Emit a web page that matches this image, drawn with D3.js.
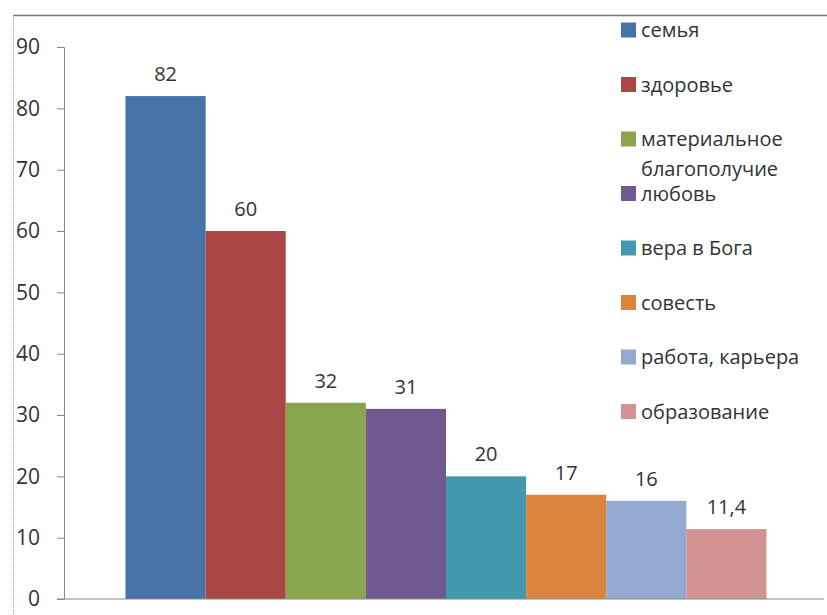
<!DOCTYPE html>
<html>
<head>
<meta charset="utf-8">
<script src="https://cdn.jsdelivr.net/npm/d3@7"></script>
<style>
body { margin: 0; background: #fff; }
text { font-family: "Open Sans", "Noto Sans", sans-serif; fill: #333; }
</style>
</head>
<body>
<div id="chart-area"></div>
<script>
var categories = ["семья", "здоровье", "материальное благополучие", "любовь", "вера в Бога", "совесть", "работа, карьера", "образование"]
var values = [82, 60, 32, 31, 20, 17, 16, 11.4]
var labels = ["82", "60", "32", "31", "20", "17", "16", "11,4"]
var colors = ["#4572A7", "#AA4643", "#89A54E", "#71588F", "#4198AF", "#DB843D", "#93A9CF", "#D19392"]
var yTicks = [0, 10, 20, 30, 40, 50, 60, 70, 80, 90]

var width = 827
var height = 615

var svg = d3.select("#chart-area").append("svg")
.attr("width", width)
.attr("height", height)

// frame (top line + dotted left edge)
svg.append("line")
.attr("x1", 13).attr("x2", width)
.attr("y1", 15.5).attr("y2", 15.5)
.attr("stroke", "#777").attr("stroke-width", 1.5)
svg.append("line")
.attr("x1", 13.5).attr("x2", 13.5)
.attr("y1", 15).attr("y2", height)
.attr("stroke", "#999").attr("stroke-dasharray", "1,1")

var x = d3.scaleBand()
.domain(categories)
.range([125.5, 766.5])
.padding(0)

var y = d3.scaleLinear()
.domain([0, 90])
.range([599, 47])

// bars
svg.selectAll("rect.bar")
.data(values)
.enter().append("rect")
.attr("class", "bar")
.attr("x", (d, i) => x(categories[i]))
.attr("y", d => y(d))
.attr("width", x.bandwidth())
.attr("height", d => y(0) - y(d))
.attr("fill", (d, i) => colors[i])

// value labels
svg.selectAll("text.val")
.data(values)
.enter().append("text")
.attr("class", "val")
.attr("x", (d, i) => x(categories[i]) + x.bandwidth() / 2)
.attr("y", d => y(d) - 15)
.attr("text-anchor", "middle")
.attr("font-size", "20px")
.text((d, i) => labels[i])

// y axis
var yAxis = svg.append("g")
.attr("transform", "translate(64,0)")
.call(d3.axisLeft(y).tickValues(yTicks).tickSize(7).tickPadding(17))
yAxis.select(".domain").attr("stroke", "#888")
yAxis.selectAll(".tick line").attr("stroke", "#888")
yAxis.selectAll(".tick text")
.attr("font-size", "21px")
.attr("font-family", "Open Sans, Noto Sans, sans-serif")
.attr("fill", "#333")

// x axis line
svg.append("line")
.attr("x1", 57).attr("x2", 824)
.attr("y1", y(0)).attr("y2", y(0))
.attr("stroke", "#888")

// legend
var legend = svg.append("g")
.attr("transform", "translate(621, 30)")

categories.forEach((c, i) => {
	var row = legend.append("g")
	.attr("transform", "translate(0," + (i * 54.5) + ")")
	row.append("rect")
	.attr("x", 0).attr("y", -7.5)
	.attr("width", 15).attr("height", 15)
	.attr("fill", colors[i])
	var t = row.append("text")
	.attr("x", 20)
	.attr("y", 7)
	.attr("font-size", "20px")
	var words = c == "материальное благополучие" ? ["материальное", "благополучие"] : [c]
	words.forEach((w, j) => {
		t.append("tspan").attr("x", 20).attr("dy", j == 0 ? 0 : 30).text(w)
	})
})
</script>
</body>
</html>
